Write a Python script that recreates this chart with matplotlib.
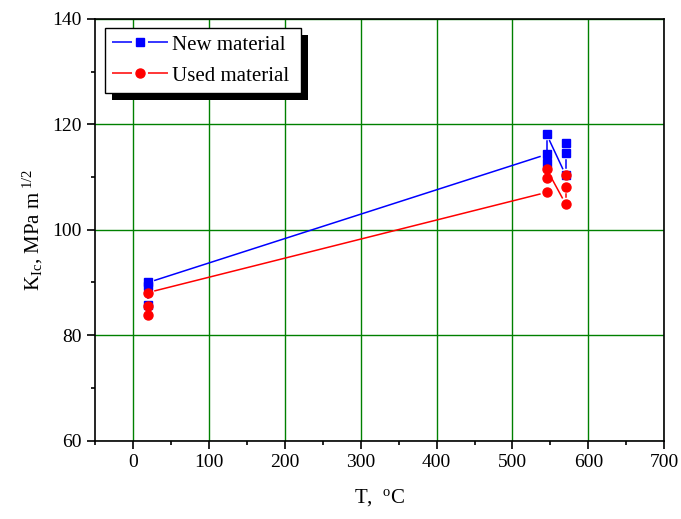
import numpy as np
import matplotlib
matplotlib.use("Agg")
import matplotlib.pyplot as plt
from matplotlib.ticker import MultipleLocator
from matplotlib.patches import Rectangle
from matplotlib.lines import Line2D
from matplotlib.transforms import IdentityTransform

plt.rcParams.update({"font.family": "Liberation Serif", "mathtext.fontset": "custom",
                     "mathtext.rm": "Liberation Serif", "mathtext.it": "Liberation Serif:italic",
                     "font.size": 12, "lines.scale_dashes": False})

# temperatures (deg C) and fracture toughness readings, in plotting order
t_new = [20, 20, 20, 545, 545, 545, 570, 570, 570]
k_new = [85.8, 89.3, 90.0, 114.3, 112.6, 118.1, 110.4, 114.6, 116.4]
t_used = [20, 20, 20, 545, 545, 545, 570, 570, 570]
k_used = [83.9, 85.6, 88.1, 107.1, 109.9, 111.5, 104.9, 108.2, 110.4]

BLUE, RED = "#0000ff", "#ff0000"
GAP = 7  # px gap between line end and symbol centre (Origin style)

fig = plt.figure(figsize=(6.81, 5.19), dpi=100)
ax = fig.add_axes([0.1395, 0.151, 0.836, 0.8125])
ax.set_xlim(-50, 700); ax.set_ylim(60, 140)


def gapped_line(x, y, color):
    pts = ax.transData.transform(np.column_stack([x, y]))
    inv = ax.transData.inverted()
    for p, q in zip(pts[:-1], pts[1:]):
        d = q - p
        L = np.hypot(*d)
        if L <= 2 * GAP:
            continue
        u = d / L
        seg = inv.transform(np.array([p + u * GAP, q - u * GAP]))
        ax.plot(seg[:, 0], seg[:, 1], color=color, lw=1.1, zorder=2)


gapped_line(t_new, k_new, BLUE)
gapped_line(t_used, k_used, RED)
ax.plot(t_new, k_new, "s", color=BLUE, ms=6, zorder=3)
ax.plot(t_used, k_used, "o", color=RED, ms=6.5, zorder=3)

ax.xaxis.set_major_locator(MultipleLocator(100)); ax.xaxis.set_minor_locator(MultipleLocator(50))
ax.yaxis.set_major_locator(MultipleLocator(20)); ax.yaxis.set_minor_locator(MultipleLocator(10))
ax.tick_params(which="major", length=6, width=1.2, labelsize=14, direction="out")
ax.tick_params(which="minor", length=3, width=1.2, direction="out")
ax.grid(True, which="major", color="#008000", lw=1)
ax.set_axisbelow(True)
for s in ax.spines.values():
    s.set_linewidth(1.2)

ax.set_xlabel(r"T,  $^{\rm o}$C", fontsize=15, labelpad=12)
ax.set_ylabel(r"K$_{\rm Ic}$, MPa m$^{\ 1/2}$", fontsize=15, labelpad=5)

# legend proxies: line - gap - symbol - gap - line
h_new = Line2D([], [], color=BLUE, lw=1.1, marker="s", ms=6, dashes=[14.4, 11.5])
h_used = Line2D([], [], color=RED, lw=1.1, marker="o", ms=6.5, dashes=[14.4, 11.5])
leg = ax.legend([h_new, h_used], ["New material ", "Used material "],
                loc="upper left", bbox_to_anchor=(0.0176, 0.979), borderaxespad=0, fontsize=15,
                fancybox=False, framealpha=1, edgecolor="black",
                borderpad=0.35, handlelength=2.7, labelspacing=0.55, handletextpad=0.15)
leg.get_frame().set_linewidth(1.0)
leg.set_zorder(5)

# solid black drop shadow, offset down-right
fig.canvas.draw()
bb = leg.get_window_extent()
shadow = Rectangle((bb.x0 + 7, bb.y0 - 7), bb.width, bb.height, transform=IdentityTransform(),
                   facecolor="black", edgecolor="none", zorder=4)
ax.add_patch(shadow)

fig.savefig("out.png", dpi=100)
